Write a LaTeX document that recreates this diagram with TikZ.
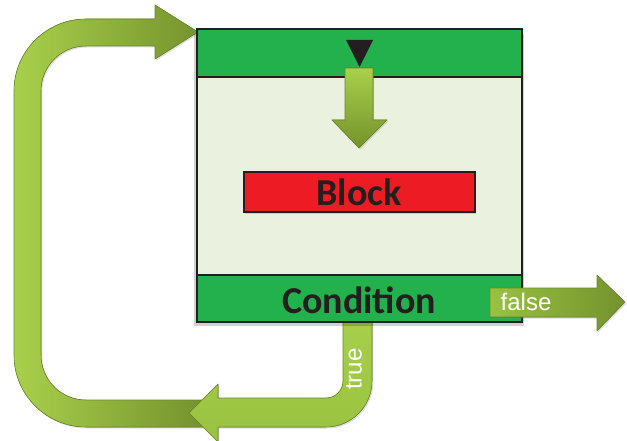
\documentclass[tikz,border=0pt]{standalone}
\usepackage{fontspec}
\setmainfont{Carlito}
\newfontfamily\labelfont{Liberation Sans}
\usetikzlibrary{shadows,calc}
\definecolor{bandgreen}{HTML}{22B14C}
\definecolor{bodygreen}{HTML}{EBF1DF}
\definecolor{blockred}{HTML}{ED1C24}
\definecolor{inkdark}{HTML}{231F20}
\definecolor{arrowlight}{HTML}{A9D04B}
\definecolor{arrowmid}{HTML}{98C240}
\definecolor{arrowdark}{HTML}{74922D}
\definecolor{arrowedge}{HTML}{6A8A28}
\tikzset{
  panel/.style={draw=inkdark, line width=2.6pt, inner sep=0pt, outer sep=0pt},
  bigarrow/.style={draw=arrowedge, line width=0.6pt, line join=round,
    drop shadow={shadow xshift=1.2pt, shadow yshift=-1.5pt, opacity=0.25}},
  boxtext/.style={font=\bfseries\fontsize{38}{40}\selectfont, text=inkdark},
  arrowtext/.style={font=\labelfont\fontsize{24}{26}\selectfont, text=white},
}
\begin{document}
\begin{tikzpicture}[x=1pt, y=-1pt]
\useasboundingbox (0,0) rectangle (627,441);

% named anchor points for the connectors
\coordinate (loopstart) at (205,413);
\coordinate (loopend) at (198,32);
\coordinate (truestart) at (357,310);
\coordinate (trueend) at (189,413);
\coordinate (falsestart) at (490,302);
\coordinate (falseend) at (625,302);
\coordinate (downstart) at (359,68);
\coordinate (downend) at (359,148);

% return loop: from the bottom, up the left side, into the top band
\fill[bigarrow, left color=arrowlight, right color=arrowdark]
  ($(loopstart)+(0,-13)$) -- (86,400)
  arc[start angle=90, end angle=180, radius=45] -- (41,91)
  arc[start angle=180, end angle=270, radius=45] -- (155,46)
  -- (155,59) -- (loopend) -- (155,5) -- (155,19) -- (86,19)
  arc[start angle=270, end angle=180, radius=72] -- (14,355)
  arc[start angle=180, end angle=90, radius=72] -- ($(loopstart)+(0,14)$) -- cycle;

% "true" branch leaving the condition downwards
\fill[bigarrow, top color=arrowlight, bottom color=arrowmid]
  ($(truestart)+(-14,0)$) -- (343,381)
  arc[start angle=0, end angle=90, radius=17] -- (218,398)
  -- (218,384) -- (trueend) -- (218,442) -- (218,427) -- (326,427)
  arc[start angle=90, end angle=0, radius=46] -- ($(truestart)+(15,0)$) -- cycle;
\node[arrowtext, rotate=90] (truelbl) at (354,369) {true};

% soft shadow under the whole loop box
\fill[black, opacity=0.18] (194,34) rectangle (524,326);

% loop body panels
\node[panel, fill=bodygreen, minimum width=325pt, minimum height=200pt,
      anchor=north west] (body) at (197,77) {};
\node[panel, fill=bandgreen, minimum width=325pt, minimum height=48pt,
      anchor=south west] (entry) at (197,77) {};
\node[panel, fill=bandgreen, minimum width=325pt, minimum height=47pt,
      anchor=north west] (cond) at (197,275) {};
\node[boxtext, anchor=center] (condtext) at (359,300) {Condition};
\node[draw=inkdark, line width=2pt, fill=blockred, minimum width=231pt,
      minimum height=40pt, boxtext, inner sep=0pt,
      drop shadow={shadow xshift=1.5pt, shadow yshift=-2pt, opacity=0.3}]
      (block) at (359,192) {Block};

% entry marker and flow into the body
\fill[inkdark] (346,40) -- (373,40) -- (359.5,67) -- cycle;
\fill[bigarrow, top color=arrowlight, bottom color=arrowdark]
  ($(downstart)+(-14,0)$) -- (345,120) -- (332,120) -- (downend)
  -- (387,120) -- (373,120) -- ($(downstart)+(14,0)$) -- cycle;

% "false" exit to the right
\fill[bigarrow, left color=arrowmid, right color=arrowdark]
  ($(falsestart)+(0,-14)$) -- (597,288) -- (597,275) -- (falseend)
  -- (597,331) -- (597,317) -- ($(falsestart)+(0,15)$) -- cycle;
\node[arrowtext] (falselbl) at (526,302) {false};
\end{tikzpicture}
\end{document}
